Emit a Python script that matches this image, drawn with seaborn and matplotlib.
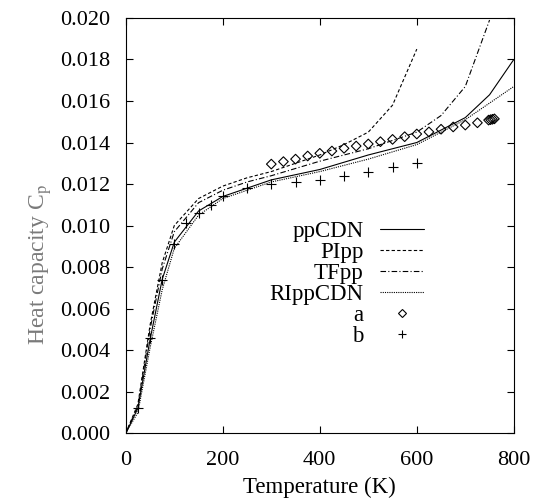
import matplotlib
matplotlib.use("Agg")
import matplotlib.pyplot as plt
import seaborn as sns
import pandas as pd
from matplotlib.lines import Line2D

# ---- data ----
T_ppCDN = [0, 25, 50, 75, 100, 150, 200, 250, 300, 400, 500, 600, 700, 750, 800]
Cp_ppCDN = [0.0, 0.0012, 0.0045, 0.0074, 0.0092, 0.0107, 0.0114, 0.0118, 0.0122,
            0.0127, 0.0134, 0.0140, 0.0152, 0.0163, 0.0180]

T_PIpp = [0, 25, 50, 75, 100, 150, 200, 250, 300, 400, 450, 500, 550, 600]
Cp_PIpp = [0.0, 0.0014, 0.0052, 0.0082, 0.0100, 0.0113, 0.0119, 0.0123, 0.0126,
           0.0134, 0.0139, 0.0145, 0.0158, 0.0185]

T_TFpp = [0, 25, 50, 75, 100, 150, 200, 250, 300, 400, 500, 600, 650, 700, 750]
Cp_TFpp = [0.0, 0.0013, 0.0050, 0.0079, 0.0097, 0.0111, 0.0117, 0.0121, 0.0124,
           0.0131, 0.0137, 0.0145, 0.0153, 0.0167, 0.0199]

T_RIppCDN = [0, 25, 50, 75, 100, 150, 200, 250, 300, 400, 500, 600, 700, 800]
Cp_RIppCDN = [0.0, 0.0010, 0.0041, 0.0069, 0.0089, 0.0105, 0.0113, 0.0117, 0.0121,
              0.0126, 0.0132, 0.0139, 0.0151, 0.0167]

T_a = [300, 325, 350, 375, 400, 425, 450, 475, 500, 525, 550, 575, 600, 625, 650,
       675, 700, 725, 748, 752, 756, 760]
Cp_a = [0.01296, 0.01308, 0.01320, 0.01335, 0.01348, 0.01359, 0.01372, 0.01383,
        0.01393, 0.01404, 0.01415, 0.01428, 0.01441, 0.01451, 0.01464, 0.01475,
        0.01484, 0.01495, 0.01508, 0.01510, 0.01512, 0.01514]

T_b = [25, 50, 75, 100, 125, 150, 175, 200, 250, 300, 350, 400, 450, 500, 550, 600]
Cp_b = [0.0012, 0.0046, 0.0074, 0.0091, 0.0101, 0.0106, 0.0110, 0.0114, 0.0118,
        0.0120, 0.0121, 0.0122, 0.0124, 0.0126, 0.0128, 0.0130]

x_ticks = [0, 200, 400, 600, 800]
y_ticks = [0.000, 0.002, 0.004, 0.006, 0.008, 0.010, 0.012, 0.014, 0.016, 0.018, 0.020]

# ---- style ----
sns.set_style("ticks")
plt.rcParams['font.family'] = ['Liberation Serif', 'DejaVu Serif']
plt.rcParams['mathtext.fontset'] = 'stix'

fig = plt.figure(figsize=(5.33, 4.99), dpi=100)
ax = fig.add_axes([0.236, 0.132, 0.728, 0.832])

lw = 0.8
series = [
    ("ppCDN", T_ppCDN, Cp_ppCDN, "-"),
    ("PIpp", T_PIpp, Cp_PIpp, (0, (3, 2))),
    ("TFpp", T_TFpp, Cp_TFpp, (0, (5, 2, 1, 2))),
    ("RIppCDN", T_RIppCDN, Cp_RIppCDN, (0, (1, 1))),
]
handles = []
for name, T, C, ls in series:
    df = pd.DataFrame({"T": T, "Cp": C})
    sns.lineplot(data=df, x="T", y="Cp", ax=ax, color="black", linewidth=lw,
                 linestyle=ls, sort=False, estimator=None)
    handles.append(Line2D([], [], color="black", linewidth=lw, linestyle=ls, label=name))

dfa = pd.DataFrame({"T": T_a, "Cp": Cp_a})
sns.scatterplot(data=dfa, x="T", y="Cp", ax=ax, marker="D", s=24,
                facecolor="none", edgecolor="black", linewidth=0.8)
dfb = pd.DataFrame({"T": T_b, "Cp": Cp_b})
sns.scatterplot(data=dfb, x="T", y="Cp", ax=ax, marker="+", s=50,
                color="black", linewidth=0.8)
handles.append(Line2D([], [], color="black", marker="D", markersize=4,
                      markerfacecolor="none", markeredgewidth=0.8, linestyle="none", label="a"))
handles.append(Line2D([], [], color="black", marker="+", markersize=6,
                      markeredgewidth=0.8, linestyle="none", label="b"))

ax.set_xlim(0, 800)
ax.set_ylim(0, 0.020)
ax.set_xticks(x_ticks)
ax.set_yticks(y_ticks)
ax.set_xticklabels([str(v) for v in x_ticks])
ax.set_yticklabels([f"{v:.3f}" for v in y_ticks])
ax.tick_params(direction="in", top=True, right=True, length=5, width=0.8,
               labelsize=16, colors="black")
ax.tick_params(axis="y", pad=11)
ax.tick_params(axis="x", pad=13)
for s in ax.spines.values():
    s.set_visible(True)
    s.set_linewidth(0.8)
    s.set_color("black")

ax.set_xlabel("Temperature (K)", fontsize=16.5, va="top", color="black")
ax.xaxis.set_label_coords(0.5, -0.105)
ax.set_ylabel("Heat capacity C$_\\mathrm{p}$", fontsize=17, color="#7a7a7a")
ax.yaxis.set_label_coords(-0.186, 0.405)

leg = ax.legend(handles=handles, loc="center right", bbox_to_anchor=(0.768, 0.36),
                frameon=False, markerfirst=False, fontsize=16.5, handlelength=1.92,
                labelspacing=0.0, handletextpad=0.7, borderaxespad=0, borderpad=0)
for t in leg.get_texts():
    t.set_ha("right")
    t.set_color("black")

fig.savefig("out.png", dpi=100)
